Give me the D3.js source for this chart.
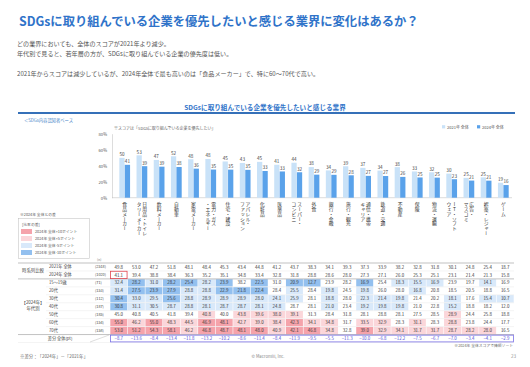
<!DOCTYPE html>
<html>
<head>
<meta charset="utf-8">
<script src="https://cdn.jsdelivr.net/npm/d3@7"></script>
<style>
  body { margin: 0; background: #fff; }
  svg text { font-family: "Noto Sans CJK JP", "Noto Sans", sans-serif; }
  .vlabel { writing-mode: vertical-rl; text-orientation: upright; }
</style>
</head>
<body>
<div id="chart"></div>
<script>
// industries, sorted by the 2024 total score
var categories = ["食品メーカー", "日用品・トイレ\nタリーメーカー", "飲料メーカー", "自動車", "家電メーカー",
    "電力・ガス\n・エネルギー", "住宅・建設", "アパレル・\nファッション", "化粧品", "医薬品",
    "スーパー・\nコンビニ", "外食", "銀行・金融", "旅行・観光", "通信・携帯\nキャリア",
    "鉄道・交通", "不動産", "保険", "物流・運輸", "IT・ソフト\nウェア",
    "広告・\nマスコミ", "娯楽・レジャー", "ゲーム"];

var total2021 = [49.8, 53.0, 47.2, 51.8, 48.1, 48.4, 45.3, 43.4, 44.8, 41.2, 43.7, 38.3, 34.1, 39.3, 37.3, 33.9, 38.2, 32.8, 31.8, 30.1, 24.8, 25.4, 18.7];
var total2024 = [41.1, 39.4, 38.8, 38.4, 36.3, 35.2, 35.1, 34.8, 33.4, 32.8, 31.8, 28.8, 28.6, 28.0, 27.3, 27.1, 26.0, 25.3, 25.1, 23.1, 21.4, 21.3, 15.8];

var age1519 = [32.4, 28.2, 31.0, 28.2, 25.4, 28.2, 23.9, 38.2, 22.5, 31.0, 20.9, 12.7, 23.9, 28.2, 16.9, 25.4, 18.3, 15.5, 16.9, 23.9, 19.7, 14.1, 16.9];
var age20s = [31.4, 27.5, 23.9, 27.9, 28.8, 28.8, 22.9, 21.8, 22.4, 28.4, 25.5, 28.4, 19.8, 24.5, 19.8, 26.0, 28.0, 16.8, 20.8, 18.5, 20.5, 18.8, 16.5];
var age30s = [30.4, 33.0, 29.5, 25.6, 28.8, 28.9, 28.9, 28.9, 28.0, 24.1, 25.9, 28.1, 18.8, 28.0, 22.3, 21.4, 19.8, 21.4, 20.2, 18.1, 17.6, 15.4, 10.7];
var age40s = [30.8, 31.1, 30.5, 28.7, 28.8, 28.1, 28.7, 28.7, 28.1, 24.8, 28.7, 28.1, 21.0, 23.4, 19.2, 19.8, 19.8, 21.0, 22.8, 15.2, 18.8, 18.2, 12.0];
var age50s = [45.0, 40.8, 40.5, 41.8, 39.4, 40.8, 40.0, 43.8, 39.6, 38.0, 39.1, 31.3, 28.4, 31.8, 28.1, 28.8, 28.1, 27.5, 28.5, 28.9, 24.4, 25.8, 18.8];
var age60s = [55.0, 46.2, 55.0, 48.3, 44.5, 46.9, 48.1, 42.7, 39.0, 38.4, 42.3, 34.1, 34.8, 31.7, 33.5, 32.9, 28.3, 31.1, 28.3, 28.8, 23.8, 24.4, 17.7];
var age70s = [53.0, 51.2, 54.3, 58.1, 46.2, 46.8, 48.7, 48.1, 48.0, 40.9, 42.1, 46.8, 34.8, 32.8, 39.0, 32.9, 34.1, 31.7, 31.7, 28.7, 28.2, 28.0, 16.5];

var ageLabels = ["15～19歳", "20代", "30代", "40代", "50代", "60代", "70代"];
var ageN = ["(71)", "(153)", "(112)", "(187)", "(185)", "(154)", "(158)"];
var totalLabels = ["2021年 全体", "2024年 全体"];
var totalN = ["(2518)", "(1020)"];

var seriesNames = ["2021年 全体", "2024年 全体"];
var yTicks = [0, 20, 40, 60, 80];
var diffLegend = ["2024年 全体+10ポイント", "2024年 全体+5ポイント", "2024年 全体-5ポイント", "2024年 全体-10ポイント"];

var blue = "#2f73c9";
var barColors = ["#c9e2f8", "#5aa2ea"];
var cellColors = ["#f5a3ab", "#fbd6da", "#d9e9fa", "#93c0ef"];

var svg = d3.select("#chart").append("svg")
    .attr("width", 530)
    .attr("height", 367);

//title and comments
svg.append("text")
    .attr("x", 19).attr("y", 25.5)
    .attr("font-size", 12.3)
    .attr("font-weight", "bold")
    .attr("fill", blue)
    .text("SDGsに取り組んでいる企業を優先したいと感じる業界に変化はあるか？");

var notes = [
    "どの業界においても、全体のスコアが2021年より減少。",
    "年代別で見ると、若年層の方が、SDGsに取り組んでいる企業の優先度は低い。",
    "2021年からスコアは減少しているが、2024年全体で最も高いのは「食品メーカー」で、特に60～70代で高い。"
];
svg.selectAll(".note")
    .data(notes).enter().append("text")
    .attr("class", "note")
    .attr("x", 17)
    .attr("y", function(d, i) { return [45.5, 55.5, 76][i]; })
    .attr("font-size", 6.1)
    .attr("fill", "#555")
    .text(function(d) { return d; });

//section heading
svg.append("text")
    .attr("x", 265).attr("y", 109.5)
    .attr("text-anchor", "middle")
    .attr("font-size", 6.6)
    .attr("font-weight", "bold")
    .attr("fill", blue)
    .text("SDGsに取り組んでいる企業を優先したいと感じる業界");
svg.append("line")
    .attr("x1", 18).attr("x2", 515)
    .attr("y1", 113).attr("y2", 113)
    .attr("stroke", "#3570b8")
    .attr("stroke-width", 1.8);
svg.append("text")
    .attr("x", 24).attr("y", 121.5)
    .attr("font-size", 4.3)
    .attr("fill", "#4a86c8")
    .text("＜SDGs内容認知者ベース");
svg.append("text")
    .attr("x", 114).attr("y", 130)
    .attr("font-size", 4)
    .attr("fill", "#666")
    .text("※スコアは「SDGsに取り組んでいる企業を優先したい」");

//legend
var legend = svg.selectAll(".legend")
    .data(seriesNames).enter().append("g")
    .attr("class", "legend")
    .attr("transform", function(d, i) { return "translate(" + (442 + i * 35) + ",128)"; });
legend.append("rect")
    .attr("x", 0).attr("y", -2.8)
    .attr("width", 3.2).attr("height", 3.2)
    .attr("fill", function(d, i) { return barColors[i]; });
legend.append("text")
    .attr("x", 5).attr("y", 0.5)
    .attr("font-size", 4)
    .attr("fill", "#555")
    .text(function(d) { return d; });

//scales
var x = d3.scaleBand()
    .domain(categories)
    .range([116, 512])
    .paddingInner(0.35)
    .paddingOuter(0.18);

var xs = d3.scaleBand()
    .domain([0, 1])
    .range([0, x.bandwidth()])
    .padding(0.04);

var y = d3.scaleLinear()
    .domain([0, 80])
    .range([197.7, 133.7]);

var yAxis = d3.axisLeft(y)
    .tickValues(yTicks)
    .tickSize(0)
    .tickPadding(5)
    .tickFormat(function(d) { return d + "%"; });

var gy = svg.append("g")
    .attr("transform", "translate(112,0)")
    .call(yAxis);
gy.select(".domain").attr("stroke", "#bbb").attr("stroke-width", 0.5);
gy.selectAll("text")
    .attr("font-size", 4.2)
    .attr("fill", "#555")
    .style("font-family", "'Noto Sans CJK JP', sans-serif");

svg.append("line")
    .attr("x1", 112).attr("x2", 512)
    .attr("y1", y(0)).attr("y2", y(0))
    .attr("stroke", "#bbb")
    .attr("stroke-width", 0.5);

//bars
var rows = categories.map(function(c, i) {
    return { name: c, vals: [total2021[i], total2024[i]] };
});

var groups = svg.selectAll(".grp")
    .data(rows).enter().append("g")
    .attr("class", "grp")
    .attr("transform", function(d) { return "translate(" + x(d.name) + ",0)"; });

groups.selectAll("rect")
    .data(function(d) { return d.vals; })
    .enter().append("rect")
    .attr("x", function(d, i) { return xs(i); })
    .attr("y", function(d) { return y(d); })
    .attr("width", xs.bandwidth())
    .attr("height", function(d) { return y(0) - y(d); })
    .attr("fill", function(d, i) { return barColors[i]; });

groups.selectAll(".val")
    .data(function(d) { return d.vals; })
    .enter().append("text")
    .attr("class", "val")
    .attr("x", function(d, i) { return xs(i) + xs.bandwidth() / 2; })
    .attr("y", function(d) { return y(d) - 1.6; })
    .attr("text-anchor", "middle")
    .attr("font-size", 4.6)
    .attr("fill", "#444")
    .text(function(d) { return Math.round(d); });

//vertical category labels, one text per column
var labelG = svg.append("g").attr("fill", "#333");
categories.forEach(function(name) {
    var cols = name.split("\n");
    var cx = x(name) + x.bandwidth() / 2;
    cols.forEach(function(col, j) {
        labelG.append("text")
            .attr("class", "vlabel")
            .attr("x", cx + (cols.length - 1) * 2.8 - j * 5.6)
            .attr("y", 202)
            .attr("font-size", 4.8)
            .text(col);
    });
});

//colour key for the table
svg.append("text")
    .attr("x", 20).attr("y", 216)
    .attr("font-size", 3.8)
    .attr("fill", "#555")
    .text("※2024年 全体との差");
svg.append("rect")
    .attr("x", 18.5).attr("y", 218.5)
    .attr("width", 71).attr("height", 40)
    .attr("fill", "none")
    .attr("stroke", "#bbb")
    .attr("stroke-width", 0.5);
svg.append("text")
    .attr("x", 22).attr("y", 225.5)
    .attr("font-size", 3.8)
    .attr("fill", "#555")
    .text("[比率の差]");
var key = svg.selectAll(".key")
    .data(diffLegend).enter().append("g")
    .attr("class", "key")
    .attr("transform", function(d, i) { return "translate(21," + (229 + i * 7) + ")"; });
key.append("rect")
    .attr("width", 11).attr("height", 5)
    .attr("fill", function(d, i) { return cellColors[i]; });
key.append("text")
    .attr("x", 14).attr("y", 3.8)
    .attr("font-size", 3.8)
    .attr("fill", "#555")
    .text(function(d) { return d; });

//table
var tableRows = [total2021, total2024, age1519, age20s, age30s, age40s, age50s, age60s, age70s];
var rowLabels = totalLabels.concat(ageLabels);
var rowN = totalN.concat(ageN);

var xt = d3.scaleBand().domain(categories).range([110, 514]);
var yt = d3.scaleBand().domain(d3.range(10)).range([263, 342.5]);
var fmt = d3.format(".1f");

function cellFill(v, i) {
    var d = v - total2024[i];
    if (d >= 10) return cellColors[0];
    if (d >= 5) return cellColors[1];
    if (d <= -10) return cellColors[3];
    if (d <= -5) return cellColors[2];
    return "none";
}

svg.append("text")
    .attr("x", 97).attr("y", 260.5)
    .attr("font-size", 3.4)
    .attr("fill", "#777")
    .text("(n)");

tableRows.forEach(function(vals, r) {
    var g = svg.append("g")
        .attr("transform", "translate(0," + yt(r) + ")");
    if (r >= 2) {
        g.selectAll("rect")
            .data(vals).enter().append("rect")
            .attr("x", function(d, i) { return xt(categories[i]) + 0.3; })
            .attr("y", 0.3)
            .attr("width", xt.bandwidth() - 0.6)
            .attr("height", yt.bandwidth() - 0.6)
            .attr("fill", function(d, i) { return cellFill(d, i); });
    }
    g.selectAll(".cell")
        .data(vals).enter().append("text")
        .attr("class", "cell")
        .attr("x", function(d, i) { return xt(categories[i]) + xt.bandwidth() / 2; })
        .attr("y", yt.bandwidth() / 2 + 1.6)
        .attr("text-anchor", "middle")
        .attr("font-size", 4.4)
        .attr("fill", "#333")
        .text(function(d) { return fmt(d); });
    g.append("text")
        .attr("x", 49).attr("y", yt.bandwidth() / 2 + 1.5)
        .attr("font-size", 4.2)
        .attr("fill", "#444")
        .text(rowLabels[r]);
    g.append("text")
        .attr("x", 95).attr("y", yt.bandwidth() / 2 + 1.5)
        .attr("font-size", 3.8)
        .attr("fill", "#444")
        .text(rowN[r]);
});

//group labels on the left
svg.append("text")
    .attr("x", 33).attr("y", yt(1) + 1.4)
    .attr("text-anchor", "middle")
    .attr("font-size", 4.4)
    .attr("fill", "#444")
    .text("時系列比較");
svg.append("text")
    .attr("x", 33).attr("y", yt(5) + 1)
    .attr("text-anchor", "middle")
    .attr("font-size", 4.4)
    .attr("fill", "#444")
    .text("【2024年】");
svg.append("text")
    .attr("x", 33).attr("y", yt(5) + 7)
    .attr("text-anchor", "middle")
    .attr("font-size", 4.4)
    .attr("fill", "#444")
    .text("年代別");

//row separators
d3.range(11).forEach(function(r) {
    var yy = r < 10 ? yt(r) : yt(9) + yt.bandwidth();
    var strong = r === 0 || r === 2 || r === 9;
    svg.append("line")
        .attr("x1", strong || r === 10 ? 18 : 46).attr("x2", 514)
        .attr("y1", yy).attr("y2", yy)
        .attr("stroke", strong ? "#999" : "#e2e2e2")
        .attr("stroke-width", strong ? 0.6 : 0.4);
});

//highlight on the top value
svg.append("rect")
    .attr("x", xt(categories[0]) + 0.5).attr("y", yt(1) + 0.3)
    .attr("width", xt.bandwidth() - 1).attr("height", yt.bandwidth() - 0.6)
    .attr("fill", "none")
    .attr("stroke", "#e0464f")
    .attr("stroke-width", 0.8);

//difference row: 2024 minus 2021
var diffs = total2024.map(function(v, i) { return v - total2021[i]; });
var dg = svg.append("g").attr("transform", "translate(0," + yt(9) + ")");
dg.append("rect")
    .attr("x", 110.5).attr("y", 0.6)
    .attr("width", 403).attr("height", yt.bandwidth() - 1.2)
    .attr("fill", "none")
    .attr("stroke", "#7b70e6")
    .attr("stroke-width", 0.8);
dg.selectAll("text.d")
    .data(diffs).enter().append("text")
    .attr("class", "d")
    .attr("x", function(d, i) { return xt(categories[i]) + xt.bandwidth() / 2; })
    .attr("y", yt.bandwidth() / 2 + 1.6)
    .attr("text-anchor", "middle")
    .attr("font-size", 4.4)
    .attr("fill", "#4f4fd6")
    .text(function(d) { return fmt(d); });
dg.append("text")
    .attr("x", 60).attr("y", yt.bandwidth() / 2 + 1.5)
    .attr("text-anchor", "middle")
    .attr("font-size", 4.2)
    .attr("fill", "#444")
    .text("差分 全体(pt)");
dg.append("line")
    .attr("x1", 90).attr("x2", 109)
    .attr("y1", yt.bandwidth() - 0.5).attr("y2", 0.5)
    .attr("stroke", "#aaa")
    .attr("stroke-width", 0.4);

//footer
svg.append("text")
    .attr("x", 513).attr("y", 347)
    .attr("text-anchor", "end")
    .attr("font-size", 3.8)
    .attr("fill", "#666")
    .text("※2024年 全体スコアで降順ソート");
svg.append("text")
    .attr("x", 20).attr("y", 358)
    .attr("font-size", 4.4)
    .attr("fill", "#666")
    .text("※差分：「2024年」－「2021年」");
svg.append("text")
    .attr("x", 268).attr("y", 358)
    .attr("text-anchor", "middle")
    .attr("font-size", 4.2)
    .attr("fill", "#888")
    .text("© Macromill, Inc.");
svg.append("text")
    .attr("x", 516).attr("y", 358)
    .attr("text-anchor", "end")
    .attr("font-size", 4.6)
    .attr("fill", "#999")
    .text("23");
</script>
</body>
</html>
